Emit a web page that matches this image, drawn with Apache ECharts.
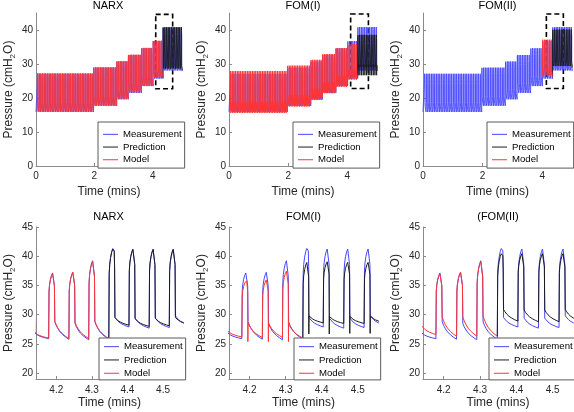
<!DOCTYPE html>
<html><head><meta charset="utf-8">
<script src="https://cdn.jsdelivr.net/npm/echarts@6/dist/echarts.min.js"></script>
<style>html,body{margin:0;padding:0;background:#fff}#c{width:574px;height:412px}</style>
</head><body><div id="c"></div>
<script>
// ---------------- data ----------------
const panelTitles = ['NARX', 'FOM(I)', 'FOM(II)', 'NARX', 'FOM(I)', '(FOM(II)'];
const legendNames = ['Measurement', 'Prediction', 'Model'];
const topXTicks = [0, 2, 4];
const topYTicks = [0, 10, 20, 30, 40];
const zoomXTicks = [4.2, 4.3, 4.4, 4.5];
const zoomYTicks = [20, 25, 30, 35, 40, 45];

// breathing rhythm (minutes)
const breathPeriod = 0.0566;
const firstBreath = 0.046;
// breath shape: [minutes after onset, fraction]
const riseShape = [[0, 0], [0.0010, 0.72], [0.0025, 0.82], [0.005, 0.9], [0.008, 0.96], [0.011, 0.995], [0.0135, 1.0], [0.0152, 0.97], [0.0162, 0.8]];
const dipTime = 0.0167;
const fallShape = [[0.0172, 1.0], [0.021, 0.8], [0.026, 0.6], [0.032, 0.42], [0.040, 0.25], [0.048, 0.12]];

// pressure steps over the whole run (top row)
const stepStart = [0, 1.92, 2.74, 3.14, 3.57, 3.97, 4.345];
const measPeak = [27.6, 29.4, 31.2, 33.1, 35.1, 37.2, 41.4];
const measBase = [15.9, 17.7, 19.6, 21.5, 23.5, 25.7, 27.9];
const measExc  = [2.8, 2.8, 2.8, 2.8, 2.8, 2.9, 1.6];
// model (steps 0-5) and prediction (step 6)
const narxPeak = [27.7, 29.5, 31.3, 33.2, 35.2, 37.3, 41.3];
const narxBase = [16.0, 17.8, 19.8, 21.7, 23.7, 25.9, 28.1];
const narxExc  = [2.8, 2.8, 2.8, 2.8, 2.8, 2.9, 1.3];
const fom1Peak = [28.4, 30.0, 31.7, 33.4, 35.1, 35.9, 39.0];
const fom1Base = [16.3, 18.2, 20.1, 22.1, 24.0, 26.1, 28.6];
const fom1Exc  = [2.6, 2.6, 2.6, 2.6, 2.6, 2.5, 1.2];
const fom1Dip  = [15.6, 17.5, 19.4, 21.4, 23.3, 25.4, 26.7];
const fom2Peak = [null, null, null, null, null, 37.6, 40.6];
const fom2Base = [null, null, null, null, null, 26.3, 28.9];
const fom2Exc  = [null, null, null, null, null, 3.3, 2.0];

// zoomed window (bottom row): breath onsets and per-breath values
const zoomOnsets = [4.1220, 4.1786, 4.2354, 4.2911, 4.3476, 4.4042, 4.4610, 4.5175];
const zMeasPeak = [37.0, 37.2, 37.3, 39.3, 41.4, 41.3, 41.3, 41.3];
const zMeasBase = [25.9, 25.8, 25.7, 25.8, 27.9, 27.7, 27.8, 28.2];
const zMeasExc  = [1.0, 3.0, 2.8, 3.0, 1.6, 1.7, 1.6, 1.6];
const zNarxPeak = [37.0, 37.1, 37.3, 39.2, 41.3, 41.2, 41.2, 41.2];
const zNarxBase = [26.0, 25.9, 25.9, 25.9, 28.2, 28.0, 28.1, 28.3];
const zNarxExc  = [1.0, 3.0, 2.8, 3.0, 1.3, 1.3, 1.3, 1.2];
const zFom1Peak = [35.5, 35.8, 36.0, 37.5, 39.0, 39.1, 39.0, 39.0];
const zFom1Base = [26.2, 26.1, 26.1, 26.0, 28.6, 28.5, 28.5, 28.6];
const zFom1Exc  = [1.0, 2.5, 2.5, 2.5, 1.2, 1.2, 1.2, 1.2];
const zFom1Dip  = [25.5, 25.4, 25.4, 25.4, 26.7, 26.7, 26.8, 26.8];
const zFom2Peak = [37.0, 37.0, 37.3, 39.1, 40.5, 40.5, 40.5, 40.5];
const zFom2Base = [26.6, 26.3, 26.3, 26.3, 28.9, 28.8, 28.8, 28.9];
const zFom2Exc  = [1.5, 3.3, 3.3, 3.5, 2.0, 2.0, 2.0, 2.0];

// dashed zoom boxes on the top row: [x0, x1, y0, y1]
const zoomBoxes = [[4.10, 4.68, 22.7, 44.6], [4.11, 4.71, 22.8, 44.7], [4.14, 4.71, 22.8, 44.7]];

// ---------------- build traces ----------------
function trace(onsets, peaks, bases, excs, dips, startLevel, endTime) {
  const pts = [];
  let prev = startLevel;
  for (let i = 0; i < onsets.length; i++) {
    const t0 = onsets[i], p = peaks[i], b = bases[i], e = excs[i];
    for (const [dt, f] of riseShape) pts.push([t0 + dt, prev + f * (p - prev)]);
    if (dips) pts.push([t0 + dipTime, dips[i]]);
    for (const [dt, f] of fallShape) pts.push([t0 + dt, b + f * e]);
    prev = b;
  }
  pts.push([endTime, prev]);
  return pts;
}
const topOnsets = [];
for (let t = firstBreath; t < 5; t += breathPeriod) topOnsets.push(t);
function stepOf(t) { let s = 0; for (let i = 0; i < stepStart.length; i++) if (t >= stepStart[i]) s = i; return s; }
const predStart = topOnsets.find(t => stepOf(t) === 6);
function topTrace(peaks, bases, excs, dips, s0, s1, startLevel, endTime) {
  const sel = topOnsets.filter(t => stepOf(t) >= s0 && stepOf(t) <= s1);
  const st = sel.map(stepOf);
  return trace(sel, st.map(s => peaks[s]), st.map(s => bases[s]), st.map(s => excs[s]),
    dips ? st.map(s => dips[s]) : null, startLevel, endTime);
}
function zTrace(peaks, bases, excs, dips, i0, i1, startLevel, endTime) {
  const sl = a => a.slice(i0, i1 + 1);
  return trace(sl(zoomOnsets), sl(peaks), sl(bases), sl(excs), dips ? sl(dips) : null, startLevel, endTime);
}

const topMeas = [[0, measBase[0]]].concat(topTrace(measPeak, measBase, measExc, null, 0, 6, measBase[0], 5));
const topModels = [
  { model: topTrace(narxPeak, narxBase, narxExc, null, 0, 5, narxBase[0], predStart),
    pred: topTrace(narxPeak, narxBase, narxExc, null, 6, 6, narxBase[5], 5) },
  { model: topTrace(fom1Peak, fom1Base, fom1Exc, fom1Dip, 0, 5, fom1Base[0], predStart),
    pred: topTrace(fom1Peak, fom1Base, fom1Exc, fom1Dip, 6, 6, fom1Base[5], 5) },
  { model: topTrace(fom2Peak, fom2Base, fom2Exc, null, 5, 5, fom2Base[5], predStart),
    pred: topTrace(fom2Peak, fom2Base, fom2Exc, null, 6, 6, fom2Base[5], 5) }
];
const zEnd = 4.60;
const zMeas = zTrace(zMeasPeak, zMeasBase, zMeasExc, null, 0, 7, zMeasBase[0], zEnd);
const zModels = [
  { model: zTrace(zNarxPeak, zNarxBase, zNarxExc, null, 0, 3, zNarxBase[0], zoomOnsets[4]),
    pred: zTrace(zNarxPeak, zNarxBase, zNarxExc, null, 4, 7, zNarxBase[3], zEnd) },
  { model: zTrace(zFom1Peak, zFom1Base, zFom1Exc, zFom1Dip, 0, 3, zFom1Base[0], zoomOnsets[4]),
    pred: zTrace(zFom1Peak, zFom1Base, zFom1Exc, zFom1Dip, 4, 7, zFom1Base[3], zEnd) },
  { model: zTrace(zFom2Peak, zFom2Base, zFom2Exc, null, 0, 3, zFom2Base[0], zoomOnsets[4]),
    pred: zTrace(zFom2Peak, zFom2Base, zFom2Exc, null, 4, 7, zFom2Base[3], zEnd) }
];

// ---------------- chart ----------------
const FONT = '"Liberation Sans", Arial, Helvetica, sans-serif';
const TXT = '#262626', AX = '#8a8a8a';
const C_MEAS = '#4646ff', C_PRED = '#1c1c1c', C_MODEL = '#ff3434';

const grids = [
  { left: 34, top: 13, width: 148, height: 153 },
  { left: 229, top: 13, width: 148, height: 153 },
  { left: 423, top: 13, width: 149, height: 153 },
  { left: 34, top: 227, width: 149, height: 152 },
  { left: 229, top: 227, width: 149, height: 152 },
  { left: 423, top: 227, width: 150, height: 152 }
];
const legendPos = [[98, 122], [293, 122], [487, 122], [99, 338], [294, 338], [489, 338]];

const xAxes = [], yAxes = [], series = [], titles = [], legends = [];
grids.forEach((g, i) => {
  const top = i < 3;
  xAxes.push({
    type: 'value', gridIndex: i, min: top ? 0 : 4.143, max: top ? 5 : 4.556,
    name: 'Time (mins)', nameLocation: 'middle', nameGap: top ? 20 : 18,
    nameTextStyle: { fontSize: 12, color: TXT, fontFamily: FONT },
    axisLine: { show: true, lineStyle: { color: AX, width: 1 } },
    axisTick: { show: true, inside: true, length: 3, lineStyle: { color: AX }, customValues: top ? topXTicks : zoomXTicks },
    axisLabel: { fontSize: 10, color: TXT, fontFamily: FONT, margin: top ? 5 : 6, customValues: top ? topXTicks : zoomXTicks },
    splitLine: { show: false }
  });
  yAxes.push({
    type: 'value', gridIndex: i, min: top ? 0 : 19, max: 45,
    name: 'Pressure (cmH{sub|2}O)', nameLocation: 'middle', nameGap: 19,
    nameTextStyle: { fontSize: 12, color: TXT, fontFamily: FONT, lineHeight: 16,
      rich: { sub: { fontSize: 8, color: TXT, fontFamily: FONT, lineHeight: 16, verticalAlign: 'bottom' } } },
    axisLine: { show: true, lineStyle: { color: AX, width: 1 } },
    axisTick: { show: true, inside: true, length: 3, lineStyle: { color: AX }, customValues: top ? topYTicks : zoomYTicks },
    axisLabel: { fontSize: 10, color: TXT, fontFamily: FONT, margin: 3, customValues: top ? topYTicks : zoomYTicks },
    splitLine: { show: false }
  });
  titles.push({
    text: panelTitles[i], left: g.left + g.width / 2, textAlign: 'center', top: top ? 0 : 211, padding: 0,
    textStyle: { fontSize: 11, fontWeight: 'normal', color: '#000', fontFamily: FONT }
  });
  legends.push({
    data: legendNames, orient: 'vertical', left: legendPos[i][0], top: legendPos[i][1],
    padding: top ? [6, 3, 2, 5] : [2, 3, 0, 5], itemGap: 0, itemWidth: 15, itemHeight: 1, icon: 'rect',
    textStyle: { fontSize: 9.6, color: '#000', fontFamily: FONT, lineHeight: top ? 12.7 : 13.3 },
    borderColor: '#5a5a5a', borderWidth: 1, borderRadius: 0, backgroundColor: '#fff',
    selectedMode: false, z: 10
  });
  const m = top ? topModels[i] : zModels[i - 3];
  const common = { type: 'line', xAxisIndex: i, yAxisIndex: i, symbol: 'none', showSymbol: false,
    animation: false, silent: true, clip: true };
  const lw = top ? 0.9 : 1;
  series.push(Object.assign({}, common, { name: 'Measurement', data: top ? topMeas : zMeas, z: 1,
    lineStyle: { color: C_MEAS, width: lw }, itemStyle: { color: C_MEAS } }));
  series.push(Object.assign({}, common, { name: 'Prediction', data: m.pred, z: 2,
    lineStyle: { color: C_PRED, width: lw }, itemStyle: { color: C_PRED } }));
  series.push(Object.assign({}, common, { name: 'Model', data: m.model, z: 3,
    lineStyle: { color: C_MODEL, width: lw }, itemStyle: { color: C_MODEL } }));
  if (top) {
    const b = zoomBoxes[i];
    series.push(Object.assign({}, common, { name: 'zoom box', data: [], z: 4,
      markArea: { silent: true, itemStyle: { color: 'rgba(0,0,0,0)', borderColor: '#000', borderWidth: 1.6, borderType: [5, 3] },
        data: [[{ coord: [b[0], b[3]] }, { coord: [b[1], b[2]] }]] } }));
  }
});

const chart = echarts.init(document.getElementById('c'), null, { renderer: 'canvas' });
chart.setOption({
  animation: false, backgroundColor: '#fff',
  grid: grids, xAxis: xAxes, yAxis: yAxes, series: series, title: titles, legend: legends
});
</script></body></html>
